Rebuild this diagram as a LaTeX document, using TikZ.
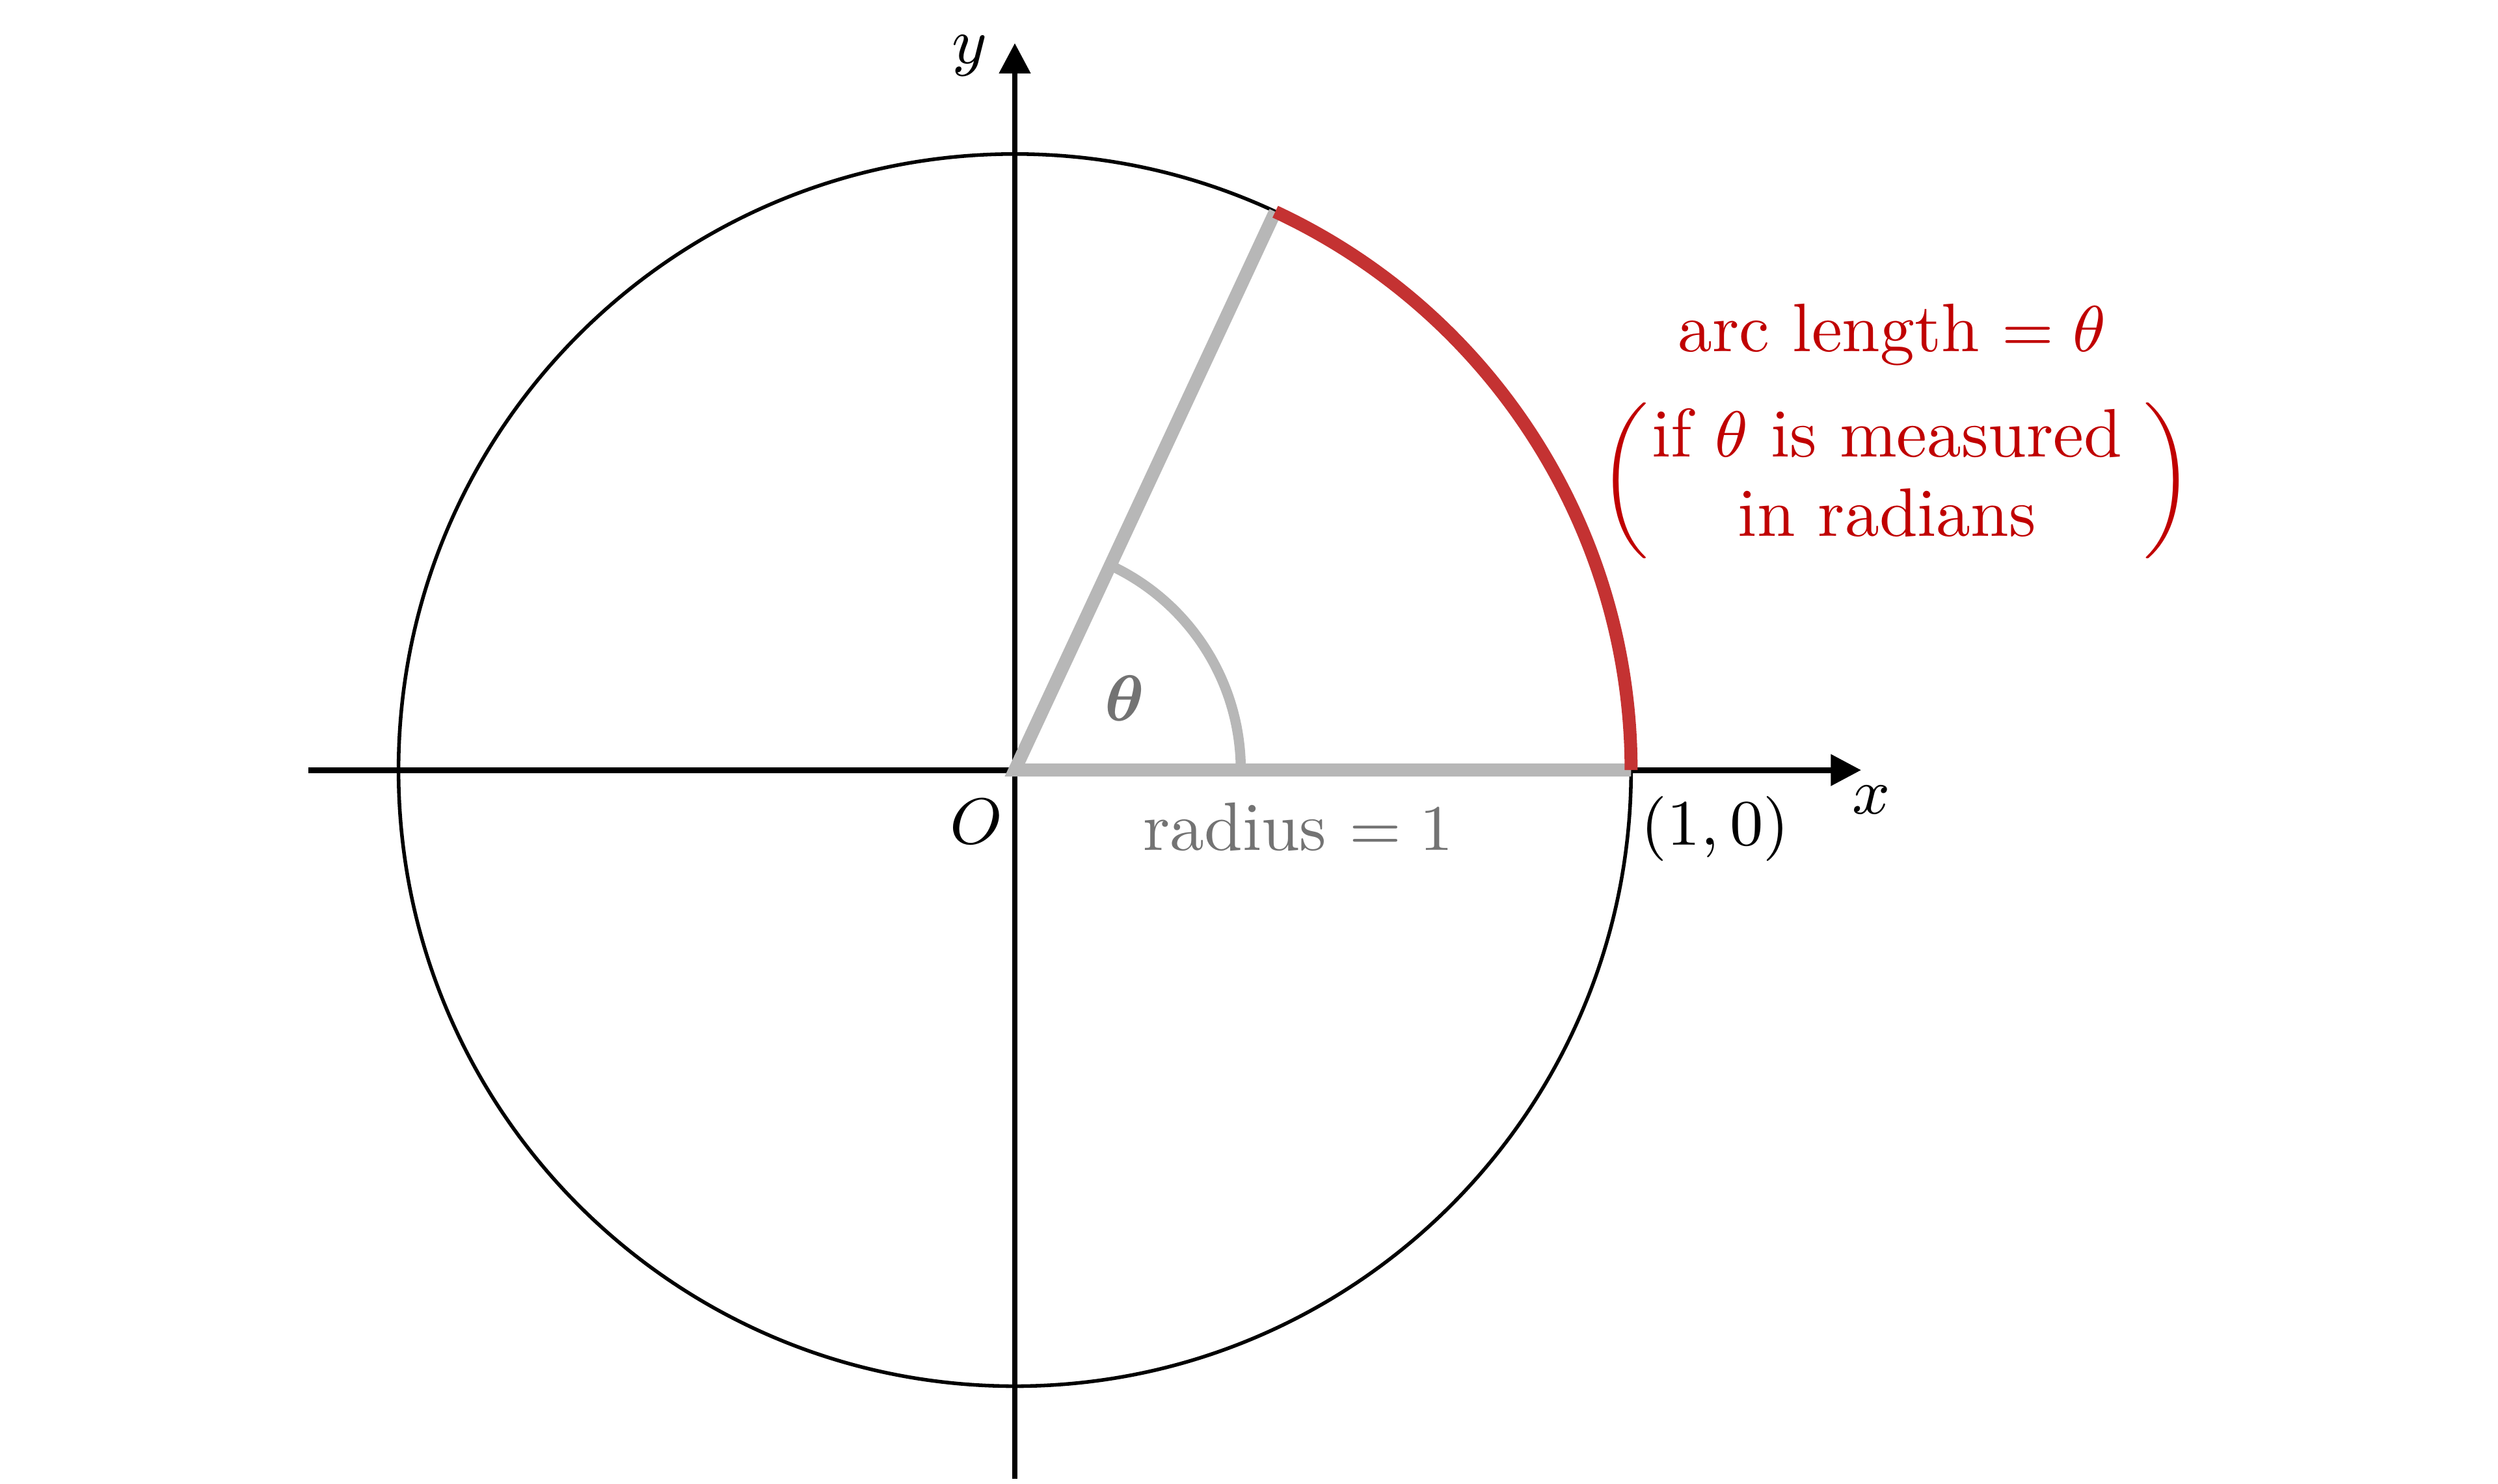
\documentclass[tikz,border=0pt]{standalone}
\usepackage{amsmath}
\usepackage{bm}
\usepackage{tikz}
\usetikzlibrary{
    arrows.meta,
    positioning
}
\definecolor{arcred}{RGB}{196,50,50}
\definecolor{notered}{RGB}{192,0,0}
\definecolor{radgray}{RGB}{183,183,183}
\definecolor{labelgray}{RGB}{115,115,115}
\tikzset{
    axis/.style={line width=0.8pt, -{Triangle[length=4.2pt, width=4.2pt]}},
    unitcircle/.style={line width=0.5pt},
    radline/.style={radgray, line width=1.8pt},
    anglemark/.style={radgray, line width=1.4pt},
    arcmark/.style={arcred, line width=1.8pt},
    graylabel/.style={labelgray},
    redlabel/.style={notered}
}

\begin{document}
\begin{tikzpicture}[x=1cm, y=1cm, font=\fontsize{9.5}{11}\selectfont]
    \useasboundingbox (-4.94, -3.475) rectangle (7.22, 3.75);
    \coordinate (O) at (0, 0);
    \coordinate (xstart) at (-3.44, 0);
    \coordinate (xend) at (4.12, 0);
    \coordinate (ystart) at (0, -3.45);
    \coordinate (yend) at (0, 3.54);
    \coordinate (P) at (65:3);
    \coordinate (A) at (3, 0);
    \draw[unitcircle] (O) circle (3);
    \draw[axis] (xstart) -- (xend);
    \draw[axis] (ystart) -- (yend);
    % radius, angle and the arc
    \draw[radline, miter limit=20] (P) -- (O) -- (A);
    \draw[anglemark] (1.1, 0) arc (0:65:1.1);
    \draw[arcmark] (A) arc (0:65:3);
    % labels
    \node (ylabel) at (-0.22, 3.48) {$y$};
    \node (xlabel) at (4.17, -0.145) {$x$};
    \node (olabel) at (-0.186, -0.25) {$O$};
    \node (onezero) at (3.41, -0.285) {$(1,0)$};
    \node[graylabel] (radius) at (1.38, -0.275) {radius $=1$};
    \node[graylabel] (theta) at (0.535, 0.35) {$\bm{\theta}$};
    \node[redlabel] (arclen) at (4.27, 2.12) {arc length $=\theta$};
    \node[redlabel] (measured) at (4.29, 1.41)
        {$\left(\begin{array}{@{\hspace{0.5pt}}c@{\hspace{3pt}}}\text{if $\theta$ is measured}\\ \text{in radians}\end{array}\right)$};
\end{tikzpicture}
\end{document}
